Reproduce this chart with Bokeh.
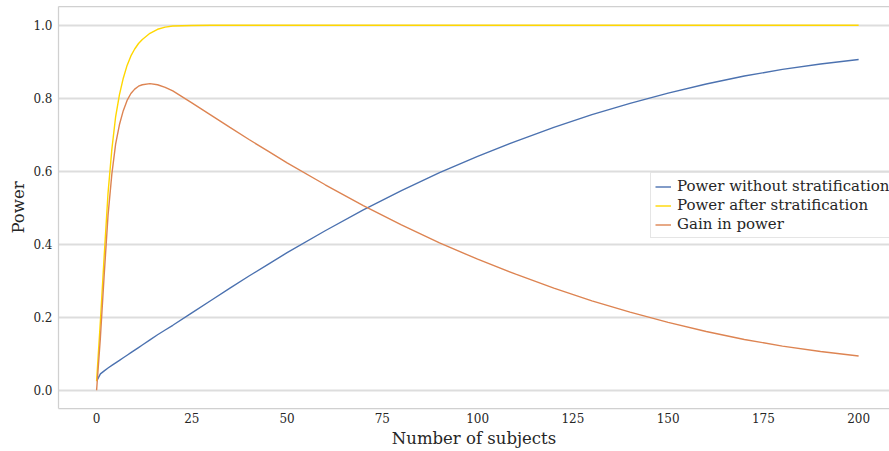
from bokeh.plotting import figure
from bokeh.models import Range1d, LinearAxis, FixedTicker, Legend, LegendItem, NumeralTickFormatter
from bokeh.embed import file_html
from bokeh.resources import INLINE

# Data
n_subjects = [0, 1, 2, 3, 4, 5, 6, 7, 8, 9, 10, 11, 12, 14, 16, 18, 20, 25, 30, 35, 40,
              45, 50, 60, 70, 80, 90, 100, 110, 120, 130, 140, 150, 160, 170, 180, 190, 200]
power_without = [0.025, 0.045, 0.053, 0.061, 0.068, 0.075, 0.082, 0.089, 0.096, 0.103, 0.110,
                 0.117, 0.124, 0.138, 0.152, 0.165, 0.178, 0.212, 0.246, 0.280, 0.313,
                 0.345, 0.377, 0.437, 0.494, 0.547, 0.596, 0.641, 0.682, 0.720, 0.755,
                 0.786, 0.814, 0.839, 0.861, 0.879, 0.894, 0.906]
power_after = [0.025, 0.19, 0.37, 0.54, 0.66, 0.75, 0.81, 0.855, 0.89, 0.916, 0.935,
               0.950, 0.961, 0.978, 0.989, 0.995, 0.998, 0.9995, 1.0, 1.0, 1.0,
               1.0, 1.0, 1.0, 1.0, 1.0, 1.0, 1.0, 1.0, 1.0, 1.0,
               1.0, 1.0, 1.0, 1.0, 1.0, 1.0, 1.0]
gain_in_power = [0.0, 0.145, 0.317, 0.479, 0.592, 0.675, 0.728, 0.766, 0.794, 0.813, 0.825,
                 0.833, 0.837, 0.840, 0.837, 0.830, 0.820, 0.7875, 0.754, 0.720, 0.687,
                 0.655, 0.623, 0.563, 0.506, 0.453, 0.404, 0.359, 0.318, 0.280, 0.245,
                 0.214, 0.186, 0.161, 0.139, 0.121, 0.106, 0.094]
x_ticks = [0, 25, 50, 75, 100, 125, 150, 175, 200]
y_ticks = [0.0, 0.2, 0.4, 0.6, 0.8, 1.0]
series_labels = ["Power without stratification", "Power after stratification", "Gain in power"]

FONT = "DejaVu Serif"
TXT = "#262626"
SPINE = "#d0d0d0"

p = figure(width=889, height=451, output_backend="svg", toolbar_location=None,
           x_range=Range1d(-10, 208.1), y_range=Range1d(-0.05, 1.0514),
           min_border_left=58, min_border_right=0, min_border_top=6, min_border_bottom=43)
p.outline_line_color = None
p.background_fill_color = "white"

r1 = p.line(n_subjects, power_without, line_color="#4c72b0", line_width=1.4)
r2 = p.line(n_subjects, power_after, line_color="#ffd700", line_width=1.4)
r3 = p.line(n_subjects, gain_in_power, line_color="#dd8452", line_width=1.4)

# axes
p.xaxis.ticker = FixedTicker(ticks=x_ticks)
p.yaxis.ticker = FixedTicker(ticks=y_ticks)
p.yaxis.formatter = NumeralTickFormatter(format="0.0")
for ax in (p.xaxis[0], p.yaxis[0]):
    ax.major_tick_out = 0
    ax.major_tick_in = 0
    ax.minor_tick_out = 0
    ax.minor_tick_in = 0
    ax.axis_line_color = SPINE
    ax.axis_line_width = 1.25
    ax.major_label_text_font = FONT
    ax.major_label_text_font_size = "12px"
    ax.major_label_text_color = TXT
    ax.axis_label_text_font = FONT
    ax.axis_label_text_font_size = "16.5px"
    ax.axis_label_text_font_style = "normal"
    ax.axis_label_text_color = TXT
p.xaxis.axis_label = "Number of subjects"
p.yaxis.axis_label = "Power"
p.xaxis.major_label_standoff = 4
p.xaxis.axis_label_standoff = 3
p.yaxis.major_label_standoff = 6
p.yaxis.axis_label_standoff = 2

top = LinearAxis(ticker=FixedTicker(ticks=[]), major_tick_out=0, major_tick_in=0,
                 minor_tick_out=0, minor_tick_in=0, major_label_standoff=0,
                 axis_line_color=SPINE, axis_line_width=1.25)
p.add_layout(top, "above")

p.xgrid.visible = False
p.ygrid.grid_line_color = "#dddddd"
p.ygrid.grid_line_width = 1.8

legend = Legend(items=[LegendItem(label=series_labels[0], renderers=[r1]),
                       LegendItem(label=series_labels[1], renderers=[r2]),
                       LegendItem(label=series_labels[2], renderers=[r3])],
                location=(592, 170))
legend.label_text_font = FONT
legend.label_text_font_size = "15px"
legend.label_text_color = TXT
legend.border_line_color = "#cccccc"
legend.border_line_width = 1
legend.background_fill_alpha = 0.8
legend.glyph_width = 16
legend.glyph_height = 17
legend.label_height = 17
legend.spacing = 1
legend.padding = 4
legend.margin = 0
legend.label_standoff = 6
p.add_layout(legend)

open("out.html", "w").write(file_html(p, INLINE))
